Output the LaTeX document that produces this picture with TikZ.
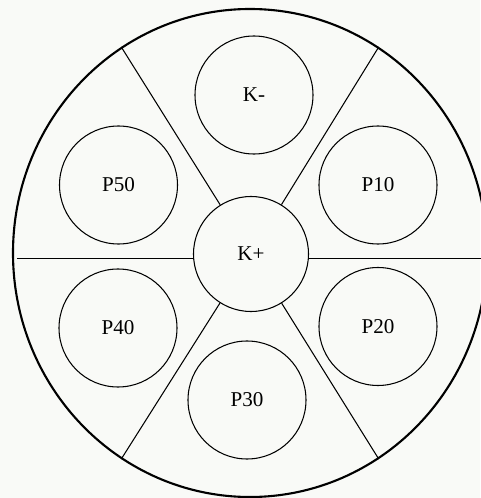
\documentclass[tikz,border=0pt]{standalone}
\usepackage{fontspec}
\setmainfont{Liberation Serif}
\usetikzlibrary{shapes.geometric}

\definecolor{paper}{HTML}{F9FAF7}

\begin{document}
\begin{tikzpicture}[line width=0.6pt,
    pot/.style={draw, circle, inner sep=0pt, minimum size=2.36cm,
      font=\fontsize{12}{14}\selectfont}]
  \fill[paper] (-5,-4.9) rectangle (4.6,5.06);
  \useasboundingbox (-5,-4.9) rectangle (4.6,5.06);
  % outer dish
  \node[draw, ellipse, line width=1.2pt, inner sep=0pt,
    minimum width=9.48cm, minimum height=9.76cm] (rim) at (0,0) {};
  % wells
  \node[pot, minimum size=2.3cm] (kp) at (0.02,-0.02) {K+};
  \node[pot] (km) at (0.08,3.16) {K-};
  \node[pot] (p10) at (2.56,1.36) {P10};
  \node[pot] (p20) at (2.56,-1.47) {P20};
  \node[pot] (p30) at (-0.06,-2.94) {P30};
  \node[pot] (p40) at (-2.64,-1.5) {P40};
  \node[pot] (p50) at (-2.63,1.36) {P50};
  % dividers
  \coordinate (hl) at (-4.66,-0.11);
  \coordinate (hr) at (4.8,-0.11);
  \draw (hl) -- (hl -| kp.west);
  \draw (hr -| kp.east) -- (hr);
  \foreach \a in {58,122,238,302}
    \draw (kp) -- (rim.\a);
\end{tikzpicture}
\end{document}
